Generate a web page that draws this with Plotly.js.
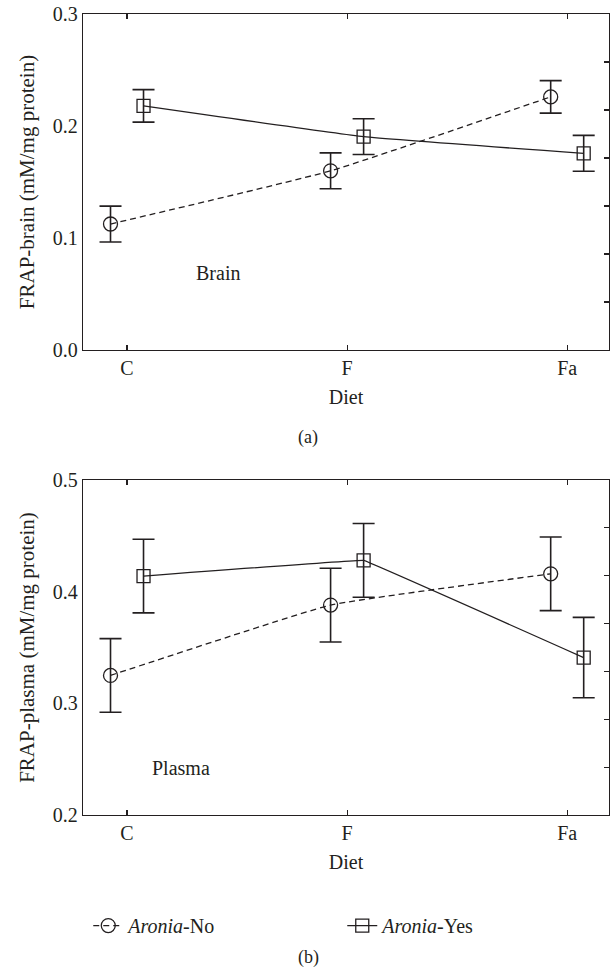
<!DOCTYPE html>
<html>
<head>
<meta charset="utf-8">
<script src="https://cdn.plot.ly/plotly-3.0.1.min.js"></script>
<style>html,body{margin:0;padding:0;background:#fff;}#chart{width:616px;height:976px;}</style>
</head>
<body>
<div id="chart"></div>
<script>
// ---- data ----
var diets = ['C', 'F', 'Fa'];
var brainNo = [0.1125, 0.160, 0.226];
var brainNoErr = [0.016, 0.016, 0.0145];
var brainYes = [0.218, 0.1905, 0.1756];
var brainYesErr = [0.0145, 0.016, 0.016];
var plasmaNo = [0.325, 0.388, 0.416];
var plasmaNoErr = [0.033, 0.033, 0.033];
var plasmaYes = [0.414, 0.428, 0.341];
var plasmaYesErr = [0.033, 0.033, 0.036];
var seriesNames = ['<i>Aronia</i>-No', '<i>Aronia</i>-Yes'];
var yTitles = ['FRAP-brain (mM/mg protein)', 'FRAP-plasma (mM/mg protein)'];
var panelLabels = ['Brain', 'Plasma'];
var subLabels = ['(a)', '(b)'];

// ---- style ----
var FONT = 'Liberation Serif, Times New Roman, serif';
var INK = '#231f20';
function series(y, err, name, xa, ya, isNo, legend, smooth) {
  return {
    x: diets, y: y, xaxis: xa, yaxis: ya, name: name,
    type: 'scatter', mode: 'lines+markers',
    showlegend: legend, legendgroup: name,
    line: {color: INK, width: 1.3, dash: isNo ? '6px,4px' : 'solid', shape: 'spline', smoothing: smooth},
    marker: {symbol: isNo ? 'circle-open' : 'square-open', size: isNo ? 14 : 13, color: INK, line: {width: 1.3, color: INK}},
    error_y: {type: 'data', array: err, visible: true, color: INK, thickness: 1.6, width: 11},
    offsetgroup: isNo ? 'no' : 'yes',
    hoverinfo: 'skip'
  };
}
function ghost(y, xa, ya) {
  return {x: diets, y: y, xaxis: xa, yaxis: ya, type: 'scatter', mode: 'markers',
    marker: {opacity: 0}, showlegend: false, hoverinfo: 'skip'};
}

var data = [
  series(brainNo, brainNoErr, seriesNames[0], 'x', 'y', true, false, 0.4),
  series(brainYes, brainYesErr, seriesNames[1], 'x', 'y', false, false, 0.3),
  series(plasmaNo, plasmaNoErr, seriesNames[0], 'x2', 'y2', true, true, 0.3),
  series(plasmaYes, plasmaYesErr, seriesNames[1], 'x2', 'y2', false, true, 0.05),
  ghost(brainNo, 'x3', 'y3'),
  ghost(plasmaNo, 'x4', 'y4')
];

var xRange = [-0.2, 2.19];
function xAxis(anchor) {
  return {
    anchor: anchor, domain: [0, 1], type: 'category', range: xRange,
    showline: true, linecolor: INK, linewidth: 1.3, mirror: 'ticks',
    ticks: 'inside', ticklen: 5, tickwidth: 1.2, tickcolor: INK,
    showgrid: false, zeroline: false,
    tickfont: {family: FONT, size: 20, color: INK},
    title: {text: 'Diet', font: {family: FONT, size: 20, color: INK}, standoff: 11}
  };
}
function yAxis(anchor, domain, range, dtick, title) {
  return {
    anchor: anchor, domain: domain, range: range, dtick: dtick, tick0: 0,
    showline: true, linecolor: INK, linewidth: 1.3, mirror: true,
    ticks: '', showgrid: false, zeroline: false,
    tickformat: '.1f',
    tickfont: {family: FONT, size: 20, color: INK},
    title: {text: title, font: {family: FONT, size: 21, color: INK}, standoff: 12}
  };
}
function rightTicks(over, anchor, domain, range) {
  return {
    overlaying: over, anchor: anchor, side: 'right', domain: domain, range: range,
    tick0: range[0], dtick: (range[1] - range[0]) / 7,
    ticks: 'inside', ticklen: 5, tickwidth: 1.2, tickcolor: INK,
    showticklabels: false, showline: false, showgrid: false, zeroline: false
  };
}
function hiddenX(over, anchor) {
  return {overlaying: over, anchor: anchor, type: 'category', range: xRange, visible: false};
}

var topDom = [0.5805, 1];
var botDom = [0, 0.4182];
var layout = {
  width: 616, height: 976,
  margin: {l: 82.5, r: 6.7, t: 14, b: 161},
  paper_bgcolor: '#fff', plot_bgcolor: '#fff',
  scattermode: 'group', scattergap: 0.7,
  font: {family: FONT, size: 20, color: INK},
  xaxis: xAxis('y'),
  yaxis: yAxis('x', topDom, [0, 0.3], 0.1, yTitles[0]),
  xaxis2: xAxis('y2'),
  yaxis2: yAxis('x2', botDom, [0.2, 0.5], 0.1, yTitles[1]),
  xaxis3: hiddenX('x', 'y3'),
  yaxis3: rightTicks('y', 'x3', topDom, [0, 0.3]),
  xaxis4: hiddenX('x2', 'y4'),
  yaxis4: rightTicks('y2', 'x4', botDom, [0.2, 0.5]),
  showlegend: true,
  legend: {
    orientation: 'h', x: 0.01, xanchor: 'left', y: -0.138, yanchor: 'middle',
    font: {family: FONT, size: 20, color: INK},
    entrywidth: 209, entrywidthmode: 'pixels', bgcolor: 'rgba(0,0,0,0)'
  },
  annotations: [
    {xref: 'x', yref: 'y', x: 0.412, y: 0.0685, text: panelLabels[0], showarrow: false,
     font: {family: FONT, size: 20, color: INK}},
    {xref: 'x2', yref: 'y2', x: 0.244, y: 0.2417, text: panelLabels[1], showarrow: false,
     font: {family: FONT, size: 20, color: INK}},
    {xref: 'paper', yref: 'paper', x: 0.428, y: 0.4719, text: subLabels[0], showarrow: false,
     yanchor: 'middle', font: {family: FONT, size: 18, color: INK}},
    {xref: 'paper', yref: 'paper', x: 0.428, y: -0.1785, text: subLabels[1], showarrow: false,
     yanchor: 'middle', font: {family: FONT, size: 18, color: INK}}
  ]
};

Plotly.newPlot('chart', data, layout, {staticPlot: true, displayModeBar: false});
</script>
</body>
</html>
